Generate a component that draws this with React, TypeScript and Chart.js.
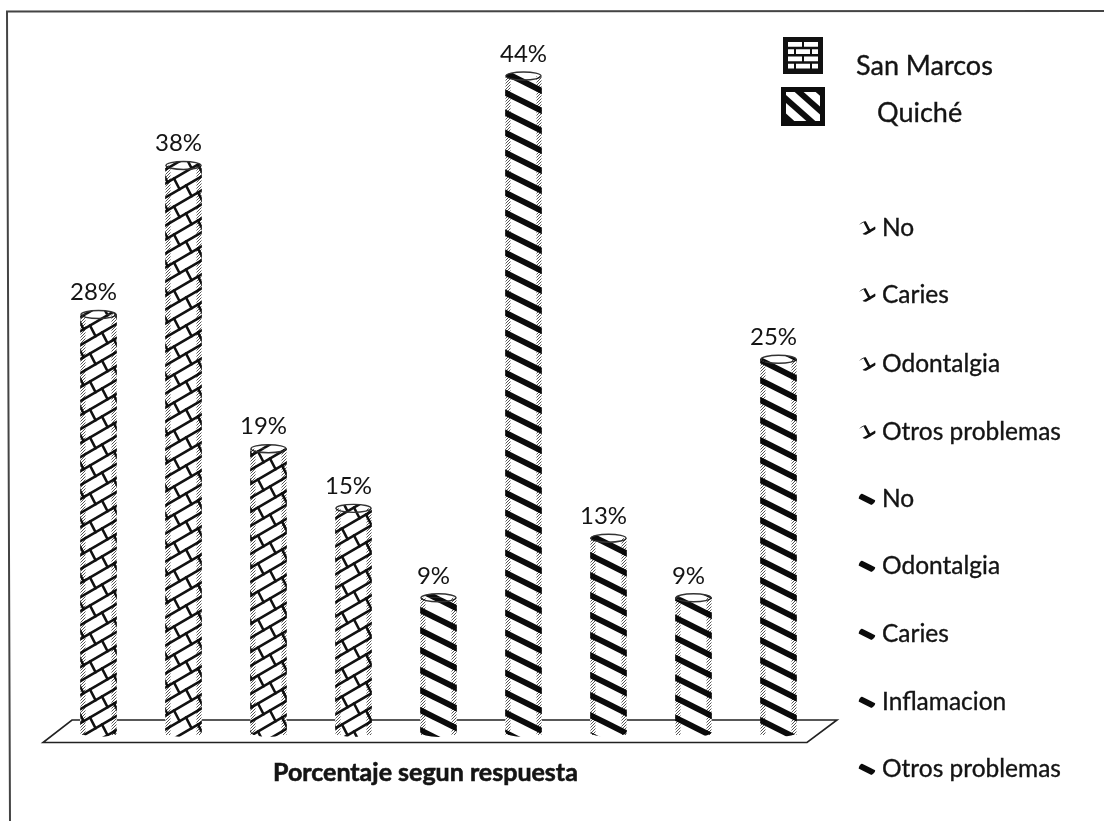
import React, { useEffect, useRef } from "react";
import { Chart, registerables } from "chart.js";

Chart.register(...registerables);

const categories = ["No", "Caries", "Odontalgia", "Otros problemas", "No", "Odontalgia", "Caries", "Inflamacion", "Otros problemas"];
const sanMarcos = [28, 38, 19, 15, null, null, null, null, null];
const quiche = [null, null, null, null, 9, 44, 13, 9, 25];
const seriesNames = ["San Marcos", "Quiché"];
const xTitle = "Porcentaje segun respuesta";

const FONT = "Lato, Carlito, 'Open Sans', sans-serif";
const INK = "#141414";

function makeTile(w: number, h: number, draw: (c: CanvasRenderingContext2D) => void) {
  const cv = document.createElement("canvas");
  cv.width = w;
  cv.height = h;
  const c = cv.getContext("2d")!;
  c.fillStyle = "#fff";
  c.fillRect(0, 0, w, h);
  draw(c);
  return c.createPattern(cv, "repeat")!;
}

function shinglePattern() {
  const w = 48, h = 28, gap = 14, slope = 28 / 48;
  return makeTile(w, h, (c) => {
    c.strokeStyle = "#111";
    c.lineWidth = 2.6;
    c.lineCap = "round";
    for (let k = -4; k < 10; k++) {
      const base = k * gap;
      c.beginPath();
      c.moveTo(-10, base + 10 * slope);
      c.lineTo(w + 10, base - (w + 10) * slope);
      c.stroke();
      for (let n = -2; n < 5; n++) {
        const x = 6 + n * 24 + (((k % 2) + 2) % 2) * 12;
        const y = base - x * slope;
        c.beginPath();
        c.moveTo(x, y);
        c.lineTo(x + 5.6, y + gap - 5.6 * slope);
        c.stroke();
      }
    }
  });
}

function stripePattern() {
  const w = 40, h = 20;
  return makeTile(w, h, (c) => {
    c.strokeStyle = "#0b0b0b";
    c.lineWidth = 6;
    for (let k = -3; k < 4; k++) {
      c.beginPath();
      c.moveTo(-10, k * h - 5);
      c.lineTo(w + 10, k * h + h + 5);
      c.stroke();
    }
  });
}

function stipplePattern() {
  const cv = document.createElement("canvas");
  cv.width = 3;
  cv.height = 3;
  const c = cv.getContext("2d")!;
  c.fillStyle = "#fff";
  c.fillRect(0, 0, 3, 3);
  c.fillStyle = "#555";
  c.fillRect(0, 0, 1, 1);
  c.fillRect(2, 1, 1, 1);
  c.fillRect(1, 2, 1, 1);
  return c.createPattern(cv, "repeat")!;
}

function brickIcon(c: CanvasRenderingContext2D, x: number, y: number, w: number, h: number) {
  c.fillStyle = "#111";
  c.fillRect(x, y, w, h);
  c.fillStyle = "#fff";
  const rows = 4, rowH = (h - 8) / rows;
  for (let r = 0; r < rows; r++) {
    const ry = y + 4 + r * rowH;
    const cells = r % 2 === 0 ? [[5, 14], [21, 14]] : [[5, 6], [13, 14], [29, 6]];
    for (const [cx, cw] of cells) c.fillRect(x + cx, ry + 1, cw, rowH - 2.5);
  }
}

function stripeIcon(c: CanvasRenderingContext2D, x: number, y: number, w: number, h: number) {
  c.fillStyle = "#0d0d0d";
  c.fillRect(x, y, w, h);
  c.save();
  c.beginPath();
  c.rect(x + 5, y + 5, w - 10, h - 10);
  c.clip();
  c.strokeStyle = "#fff";
  c.lineWidth = 8;
  for (let k = -2; k < 3; k++) {
    c.beginPath();
    c.moveTo(x + k * 21 + 2, y);
    c.lineTo(x + k * 21 + 2 + w, y + h);
    c.stroke();
  }
  c.restore();
}

const App = () => {
  const ref = useRef<HTMLCanvasElement>(null);
  useEffect(() => {
    const ctx = ref.current!.getContext("2d")!;
    const shingle = shinglePattern();
    const stripes = stripePattern();
    const stipple = stipplePattern();

    const text = (c: CanvasRenderingContext2D, s: string, x: number, y: number, weight = 0.35) => {
      c.fillText(s, x, y);
      c.strokeStyle = INK;
      c.lineWidth = weight;
      c.strokeText(s, x, y);
    };

    const decorations = {
      id: "decorations",
      beforeDraw(chart: any) {
        const c = chart.ctx;
        c.save();
        c.fillStyle = "#fff";
        c.fillRect(0, 0, chart.width, chart.height);
        c.strokeStyle = "#444";
        c.lineWidth = 2;
        c.beginPath();
        c.moveTo(10, 821);
        c.lineTo(7, 11.5);
        c.lineTo(1104, 11);
        c.stroke();
        c.strokeStyle = "#222";
        c.lineWidth = 1.6;
        c.beginPath();
        c.moveTo(72, 720);
        c.lineTo(837, 720);
        c.lineTo(807, 742.5);
        c.lineTo(43, 742.5);
        c.closePath();
        c.stroke();
        c.restore();
      },
      afterDatasetsDraw(chart: any) {
        const c = chart.ctx;
        c.save();
        chart.data.datasets.forEach((ds: any, di: number) => {
          const meta = chart.getDatasetMeta(di);
          meta.data.forEach((bar: any, i: number) => {
            const v = ds.data[i];
            if (v == null) return;
            const half = 18;
            c.fillStyle = ds.backgroundColor;
            c.beginPath();
            c.ellipse(bar.x, bar.base, half, 5, 0, 0, Math.PI);
            c.closePath();
            c.fill();
            c.beginPath();
            c.ellipse(bar.x, bar.y, half, 4, 0, Math.PI, Math.PI * 2);
            c.closePath();
            c.fill();
            c.strokeStyle = "#333";
            c.lineWidth = 1.4;
            c.beginPath();
            c.ellipse(bar.x, bar.y, half - 0.5, 4, 0, 0, Math.PI * 2);
            c.stroke();
            c.globalCompositeOperation = "multiply";
            c.fillStyle = stipple;
            c.fillRect(bar.x - half, bar.y, 5, bar.base - bar.y + 3);
            c.fillRect(bar.x + half - 5, bar.y, 5, bar.base - bar.y + 3);
            c.globalCompositeOperation = "source-over";
            c.fillStyle = INK;
            c.font = `24px ${FONT}`;
            c.textAlign = "center";
            c.textBaseline = "middle";
            c.fillText(`${v}%`, bar.x + (v === 44 ? 0 : -5), bar.y - 22);
          });
        });

        c.fillStyle = INK;
        c.textBaseline = "middle";
        c.textAlign = "left";
        c.font = `bold 25px ${FONT}`;
        text(c, xTitle, 273, 773, 0.6);

        brickIcon(c, 783, 37, 40, 37);
        stripeIcon(c, 781, 87, 44, 39);
        c.fillStyle = INK;
        c.font = `27px ${FONT}`;
        text(c, seriesNames[0], 856, 66);
        text(c, seriesNames[1], 877, 113);

        const rows = [228, 295, 364, 432, 499, 566, 634, 702, 769];
        categories.forEach((label, i) => {
          const y = rows[i];
          c.save();
          c.beginPath();
          c.ellipse(867, y, 8.5, 7, 0, 0, Math.PI * 2);
          c.clip();
          c.translate(858, y - 4);
          c.fillStyle = i < 4 ? shingle : stripes;
          c.fillRect(-2, -6, 22, 18);
          c.restore();
          c.fillStyle = INK;
          c.font = `24.5px ${FONT}`;
          text(c, label, 882, y);
        });
        c.restore();
      },
    };

    const chart = new Chart(ctx, {
      type: "bar",
      data: {
        labels: categories,
        datasets: [
          { label: seriesNames[0], data: sanMarcos, backgroundColor: shingle, barThickness: 36, grouped: false },
          { label: seriesNames[1], data: quiche, backgroundColor: stripes, barThickness: 36, grouped: false },
        ] as any,
      },
      options: {
        responsive: false,
        animation: false,
        devicePixelRatio: 1,
        layout: { padding: { left: 56, right: 283, top: 76, bottom: 89 } },
        plugins: { legend: { display: false }, title: { display: false }, tooltip: { enabled: false } },
        scales: {
          x: { display: false },
          y: { display: false, min: 0, max: 44 },
        },
      },
      plugins: [decorations],
    });
    return () => chart.destroy();
  }, []);
  return (
    <canvas
      ref={ref}
      width={1104}
      height={821}
      style={{ position: "absolute", left: 0, top: 0, display: "block" }}
    />
  );
};

export default App;
